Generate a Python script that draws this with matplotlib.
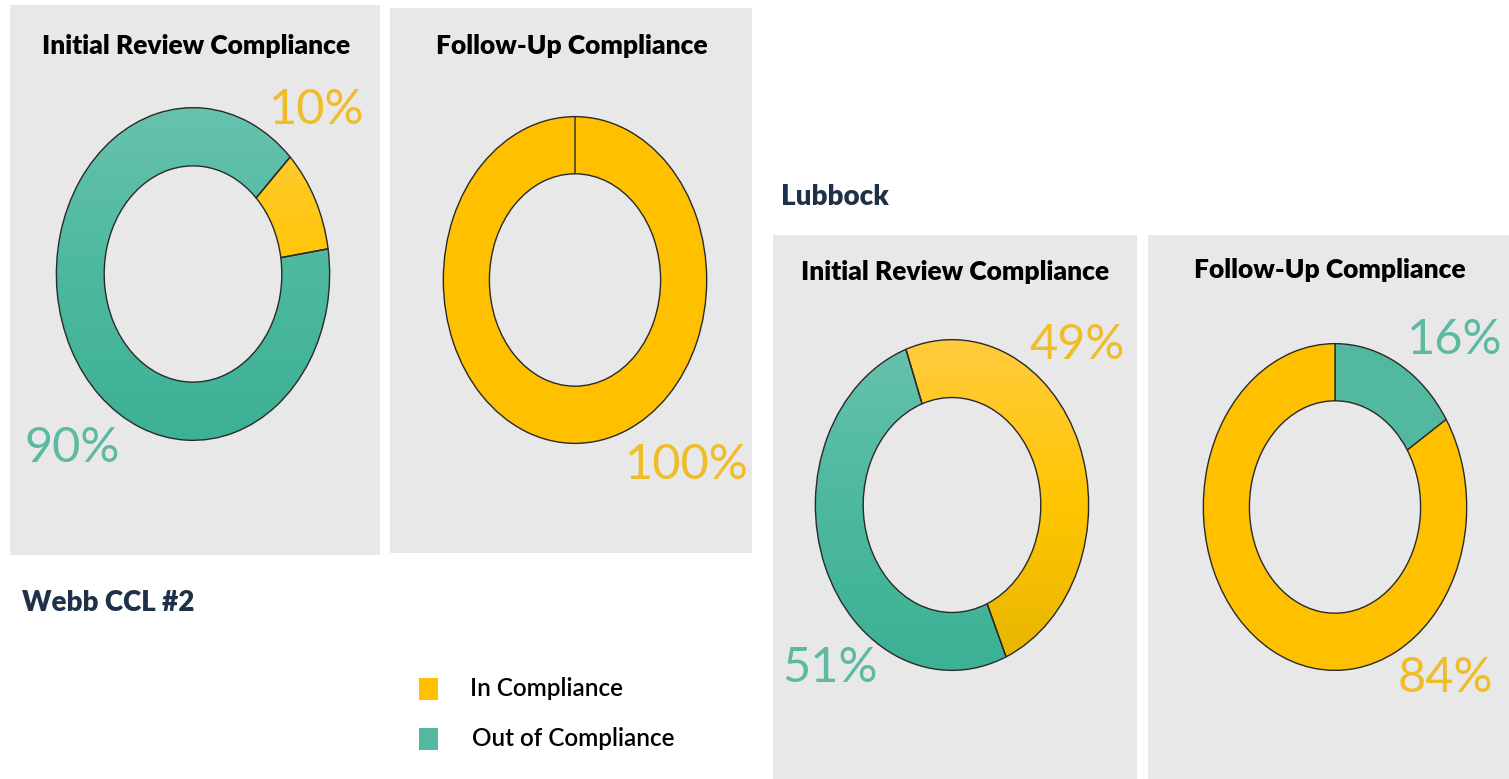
import matplotlib
matplotlib.use("Agg")
import matplotlib.pyplot as plt
import numpy as np
from matplotlib.patches import Rectangle
from matplotlib.colors import LinearSegmentedColormap

# data
panel_titles = ["Initial Review Compliance", "Follow-Up Compliance",
                "Initial Review Compliance", "Follow-Up Compliance"]
in_compliance = [10, 100, 49, 84]
out_compliance = [90, 0, 51, 16]
groups = ["Webb CCL #2", "Lubbock"]
legend_labels = ["In Compliance", "Out of Compliance"]

W, H = 1509, 779
fig = plt.figure(figsize=(W / 100, H / 100), dpi=100)
fig.patch.set_facecolor("white")

YEL = "#FFC000"
TEAL = "#52B8A0"
YEL_TXT = "#F0BC28"
TEAL_TXT = "#5DB9A1"
BG = "#E8E8E8"

TITLE_FONT = ["Lato", "DejaVu Sans"]
LABEL_FONT = ["Lato", "DejaVu Sans"]


def fx(x):
    return x / W


def fy(y):
    return 1 - y / H


def px_axes(x0, y0, x1, y1, **kw):
    return fig.add_axes([fx(x0), fy(y1), (x1 - x0) / W, (y1 - y0) / H], **kw)


# panel layout (pixels): background box, title pos, donut centre/radii, label positions
panels = [
    dict(box=(10, 5, 380, 555), title=(196, 46), c=(193, 274), r=(138, 168), start=44.7,
         first="in", grad=True, in_lbl=(317, 110), out_lbl=(72, 448)),
    dict(box=(390, 8, 752, 553), title=(572, 46), c=(575, 280), r=(133, 165), start=90,
         first="in", grad=False, in_lbl=(687, 465), out_lbl=None),
    dict(box=(773, 235, 1137, 779), title=(955, 272), c=(952, 505), r=(138, 167), start=109.7,
         first="in", grad=True, in_lbl=(1077, 345), out_lbl=(830, 668)),
    dict(box=(1148, 235, 1509, 779), title=(1330, 270), c=(1335, 507), r=(133, 165), start=90,
         first="out", grad=False, in_lbl=(1445, 678), out_lbl=(1455, 340)),
]

grad_cmaps = {
    "in": LinearSegmentedColormap.from_list("y", ["#E6B500", "#FFC600", "#FFCB3E"]),
    "out": LinearSegmentedColormap.from_list("t", ["#3CB195", "#4DB99E", "#67C2AE"]),
}

for i, p in enumerate(panels):
    x0, y0, x1, y1 = p["box"]
    bg = px_axes(x0, y0, x1, y1)
    bg.set_facecolor(BG)
    bg.set_xticks([])
    bg.set_yticks([])
    for s in bg.spines.values():
        s.set_visible(False)

    cx, cy = p["c"]
    rx, ry = p["r"]
    ax = px_axes(cx - rx, cy - ry, cx + rx, cy + ry)
    ax.set_facecolor("none")

    if p["first"] == "in":
        vals = [in_compliance[i], out_compliance[i]]
        keys = ["in", "out"]
    else:
        vals = [out_compliance[i], in_compliance[i]]
        keys = ["out", "in"]
    cols = [YEL if k == "in" else TEAL for k in keys]

    wedges, _ = ax.pie(vals, colors=cols, startangle=p["start"], counterclock=False,
                       radius=1, wedgeprops=dict(width=0.35, edgecolor="#2a2a2a", linewidth=1.0))

    # Excel-style vertical shading on the first Webb/Lubbock rings
    if p["grad"]:
        g = np.linspace(0, 1, 256).reshape(-1, 1)
        for w, k in zip(wedges, keys):
            im = ax.imshow(g, extent=(-1, 1, -1, 1), origin="lower", aspect="auto",
                           cmap=grad_cmaps[k], zorder=w.get_zorder() - 0.1)
            im.set_clip_path(w)
            w.set_facecolor("none")
            w.set_zorder(w.get_zorder() + 1)

    ax.set_aspect("auto")
    ax.set_xlim(-1.01, 1.01)
    ax.set_ylim(-1.01, 1.01)
    ax.axis("off")

    tx, ty = p["title"]
    fig.text(fx(tx), fy(ty), panel_titles[i], ha="center", va="center",
             fontsize=19, fontweight="heavy", family=TITLE_FONT, color="black")

    lx, ly = p["in_lbl"]
    fig.text(fx(lx), fy(ly), f"{in_compliance[i]}%", ha="center", va="center",
             fontsize=35, family=LABEL_FONT, color=YEL_TXT)
    if p["out_lbl"] is not None:
        lx, ly = p["out_lbl"]
        fig.text(fx(lx), fy(ly), f"{out_compliance[i]}%", ha="center", va="center",
                 fontsize=35, family=LABEL_FONT, color=TEAL_TXT)

# group headings
fig.text(fx(22), fy(603), groups[0], ha="left", va="center", fontsize=20,
         fontweight="heavy", family=TITLE_FONT, color="#1F3148")
fig.text(fx(781), fy(197), groups[1], ha="left", va="center", fontsize=20,
         fontweight="heavy", family=TITLE_FONT, color="#1F3148")

# legend
for (sy, col, lab, txt_x) in [(689, YEL, legend_labels[0], 470), (739, TEAL, legend_labels[1], 472)]:
    fig.patches.append(Rectangle((fx(419), fy(sy + 11)), 19 / W, 22 / H,
                                 transform=fig.transFigure, facecolor=col, edgecolor="none"))
    fig.text(fx(txt_x), fy(sy), lab, ha="left", va="center", fontsize=17.5,
             fontweight="semibold", family=TITLE_FONT, color="black")

fig.savefig("out.png", dpi=100)
